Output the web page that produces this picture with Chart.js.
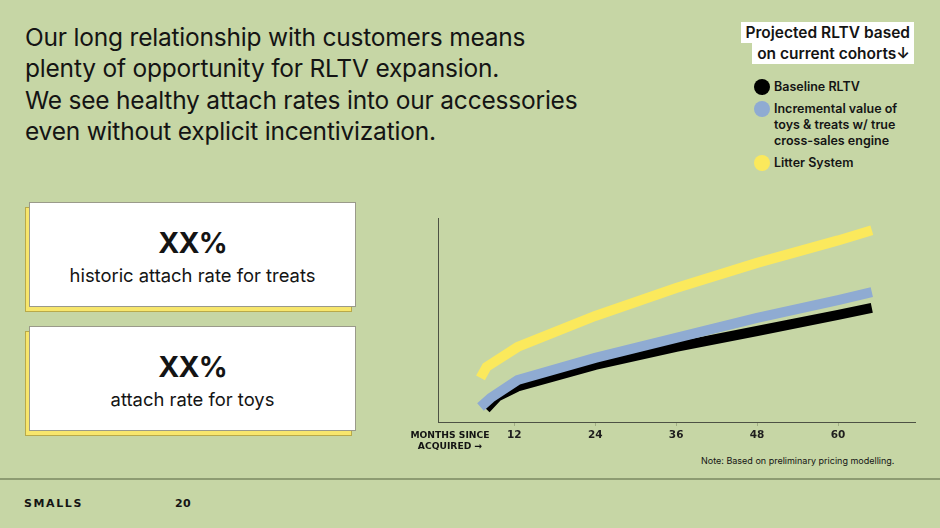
<!DOCTYPE html>
<html>
<head>
<meta charset="utf-8">
<script src="https://cdn.jsdelivr.net/npm/chart.js@4.4.0/dist/chart.umd.min.js"></script>
<style>
  html, body { margin: 0; padding: 0; }
  body { width: 940px; height: 528px; background: #c6d6a5; position: relative; overflow: hidden; font-family: Inter, "Noto Sans", sans-serif; color: #141414; }
  .headline { position: absolute; left: 25px; top: 22px; font-size: 24.5px; line-height: 31.3px; letter-spacing: -0.2px; }
  .card { position: absolute; left: 29px; width: 327px; height: 105px; background: #fff; border: 1px solid #9a9a8a; box-sizing: border-box; text-align: center; }
  .shadow { position: absolute; left: 25px; width: 327px; height: 105px; background: #f7e66c; border: 1px solid #b8a94a; box-sizing: border-box; }
  .card .big { font-size: 28.5px; font-weight: 700; margin-top: 22px; line-height: 36px; letter-spacing: -0.8px; }
  .card .small { font-size: 18.4px; line-height: 26px; margin-top: 1px; }
  .legtitle { position: absolute; right: 26px; top: 22px; text-align: right; font-size: 15.5px; font-weight: 600; line-height: 21px; }
  .legtitle span { background: #fff; padding: 1px 4px 1px 5px; }
  .leg { position: absolute; left: 754px; font-size: 12.5px; font-weight: 600; line-height: 16px; }
  .leg i { position: absolute; left: 0; top: -8px; width: 16px; height: 16px; border-radius: 50%; }
  .leg div { margin-left: 20px; margin-top: -8px; }
  .axtitle { position: absolute; left: 400px; top: 430px; width: 100px; text-align: center; font-family: "DejaVu Sans", sans-serif; font-weight: 700; font-size: 9.2px; line-height: 10.5px; }
  .note { position: absolute; left: 701px; top: 455px; font-size: 9px; }
  .rule { position: absolute; left: 0; top: 478px; width: 940px; height: 2px; background: #8d9c72; }
  .foot { position: absolute; top: 497px; font-family: "DejaVu Sans", sans-serif; font-weight: 700; font-size: 11px; letter-spacing: 1.6px; }
  #chart { position: absolute; left: 430px; top: 208px; }
</style>
</head>
<body>
<div class="headline">Our long relationship with customers means<br>plenty of opportunity for RLTV expansion.<br>We see healthy attach rates into our accessories<br>even without explicit incentivization.</div>

<div class="shadow" style="top:207px"></div>
<div class="card" style="top:202px"><div class="big">XX%</div><div class="small">historic attach rate for treats</div></div>
<div class="shadow" style="top:331px"></div>
<div class="card" style="top:326px"><div class="big">XX%</div><div class="small">attach rate for toys</div></div>

<div class="legtitle"><span>Projected RLTV based</span><br><span>on current cohorts&#8595;</span></div>
<div class="leg" style="top:87px"><i style="background:#000"></i><div>Baseline RLTV</div></div>
<div class="leg" style="top:109px"><i style="background:#8fabd2"></i><div>Incremental value of<br>toys &amp; treats w/ true<br>cross-sales engine</div></div>
<div class="leg" style="top:163px"><i style="background:#fbe95c"></i><div>Litter System</div></div>

<canvas id="chart" width="490" height="240"></canvas>
<div class="axtitle">MONTHS SINCE<br>ACQUIRED &#8594;</div>
<div class="note">Note: Based on preliminary pricing modelling.</div>

<div class="rule"></div>
<div class="foot" style="left:24px">SMALLS</div>
<div class="foot" style="left:175px;letter-spacing:0.4px">20</div>

<script>
// months since acquired (x) and projected RLTV (relative units, y)
const monthTicks = [12, 24, 36, 48, 60];

const litterMonths = [7, 7.9, 12.5, 24, 36, 48, 60, 65];
const litterValues = [21.6, 27, 36.8, 52, 65.7, 78, 89, 94];

const incrementalMonths = [7, 8.5, 12.5, 24, 36, 48, 60, 65];
const incrementalValues = [7.4, 11.8, 20.6, 31.4, 41.2, 51, 59.8, 63.7];

const baselineMonths = [7.8, 9.5, 12.5, 24, 36, 48, 60, 65];
const baselineValues = [6.5, 12.5, 17.4, 28, 36.8, 44.6, 52.5, 55.9];

function pts(xs, ys) {
    return xs.map((x, i) => ({x: x, y: ys[i]}));
}

function series(label, xs, ys, color) {
    return {
        label: label,
        data: pts(xs, ys),
        borderColor: color,
        backgroundColor: color,
        borderWidth: 10,
        borderCapStyle: 'butt',
        borderJoinStyle: 'miter',
        pointRadius: 0,
        tension: 0,
        fill: false
    };
}

// first dataset is painted on top
new Chart(document.getElementById("chart"), {
    type: 'line',
    data: {
        datasets: [
            series("Litter System", litterMonths, litterValues, "#fbe95c"),
            series("Incremental value of toys & treats w/ true cross-sales engine", incrementalMonths, incrementalValues, "#8fabd2"),
            series("Baseline RLTV", baselineMonths, baselineValues, "#000000")
        ]
    },
    options: {
        responsive: false,
        animation: false,
        devicePixelRatio: 1,
        layout: {padding: {top: 10, right: 5, left: 0, bottom: 0}},
        plugins: {legend: {display: false}, tooltip: {enabled: false}},
        scales: {
            x: {
                type: 'linear',
                min: 0.7,
                max: 71.4,
                afterFit: s => { s.height = 26; },
                afterBuildTicks: s => { s.ticks = monthTicks.map(v => ({value: v})); },
                grid: {drawOnChartArea: false, drawTicks: true, tickLength: 4, color: 'rgba(90,100,70,0.35)'},
                border: {color: '#4d5244', width: 1},
                ticks: {
                    color: '#1e1e1e',
                    padding: 3,
                    maxRotation: 0,
                    font: {family: 'DejaVu Sans', weight: 'bold', size: 10.5}
                }
            },
            y: {
                min: 0,
                max: 100,
                afterFit: s => { s.width = 8; },
                grid: {display: false},
                border: {color: '#4d5244', width: 1},
                ticks: {display: false}
            }
        }
    }
});
</script>
</body>
</html>
